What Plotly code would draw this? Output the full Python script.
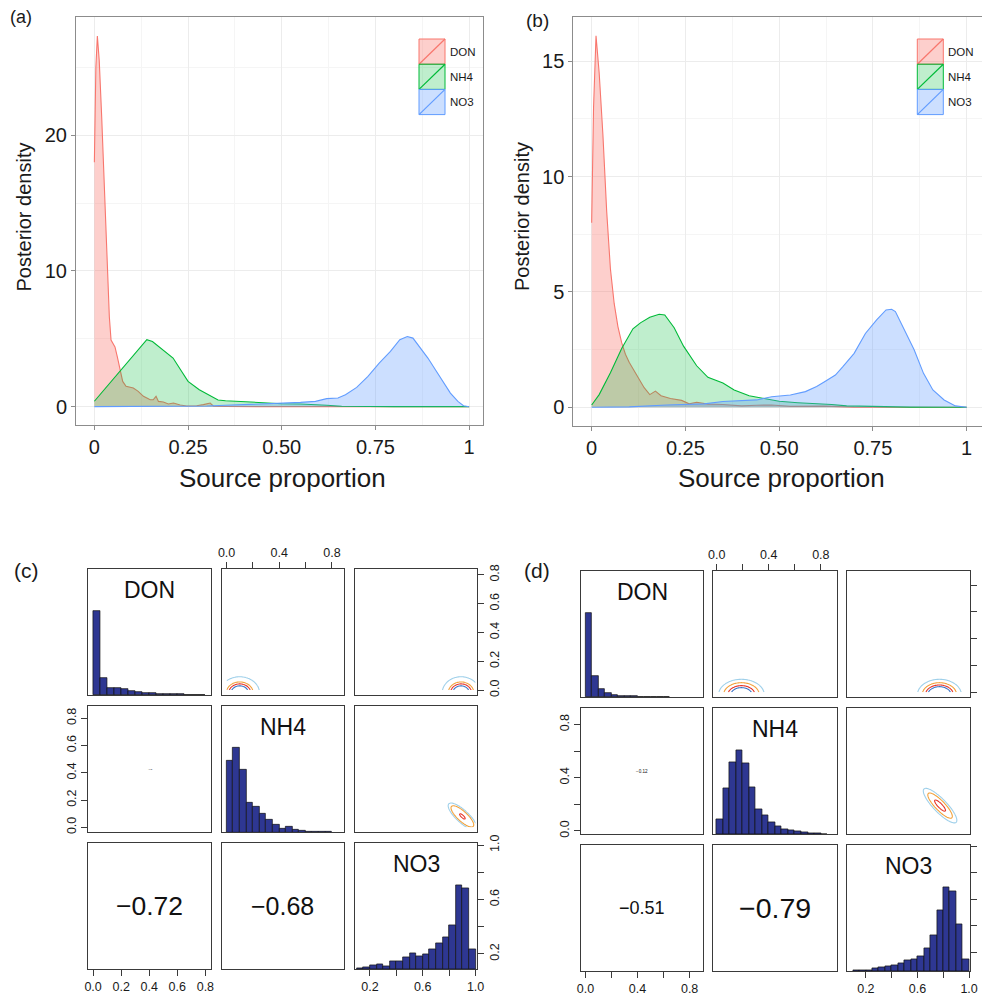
import numpy as np
import plotly.graph_objects as go

W, H = 982, 994
def fx(px): return px / W
def fy(py): return 1 - py / H

FONT = "Liberation Sans, Arial, sans-serif"
TXT = "#1a1a1a"

# ---------------- data: posterior densities ----------------
sources = ["DON", "NH4", "NO3"]
line_colors = ["#F8766D", "#00BA38", "#619CFF"]
fill_colors = ["rgba(248,118,109,0.35)", "rgba(0,186,56,0.25)", "rgba(97,156,255,0.32)"]

a_don_x = [0, 0.004, 0.008, 0.013, 0.0196, 0.0285, 0.0347, 0.04, 0.0445, 0.05, 0.055, 0.061, 0.0685,
           0.0756, 0.0845, 0.095, 0.104, 0.117, 0.131, 0.149, 0.157, 0.1646, 0.171, 0.184, 0.1975, 0.211,
           0.229, 0.246, 0.273, 0.291, 0.309, 0.318, 0.35, 0.45, 0.6, 0.8, 1.0]
a_don_y = [18, 25, 27.3, 25.5, 21.3, 15.2, 10.3, 6.6, 4.9, 4.6, 4.4, 3.7, 2.7,
           1.86, 1.5, 1.45, 1.37, 1.13, 0.76, 0.51, 0.51, 0.76, 0.39, 0.34, 0.2, 0.27,
           0.12, 0.05, 0.07, 0.15, 0.27, 0.03, 0.01, 0.005, 0, 0, 0]
a_nh4_x = [0, 0.05, 0.1, 0.14, 0.155, 0.18, 0.21, 0.23, 0.25, 0.28, 0.31, 0.33, 0.35, 0.38, 0.42,
           0.46, 0.5, 0.55, 0.59, 0.62, 0.66, 0.7, 0.8, 1.0]
a_nh4_y = [0.4, 2.0, 3.64, 4.93, 4.8, 4.24, 3.58, 2.72, 1.86, 1.25, 0.76, 0.49, 0.44, 0.39, 0.32,
           0.27, 0.22, 0.2, 0.17, 0.1, 0.03, 0.01, 0.0, 0.0]
a_no3_x = [0, 0.2, 0.25, 0.3, 0.35, 0.4, 0.45, 0.5, 0.55, 0.59, 0.62, 0.65, 0.67, 0.7, 0.73, 0.76,
           0.79, 0.815, 0.835, 0.85, 0.87, 0.89, 0.91, 0.93, 0.95, 0.97, 0.985, 1.0]
a_no3_y = [0, 0, 0.02, 0.05, 0.1, 0.15, 0.18, 0.27, 0.32, 0.39, 0.59, 0.64, 0.88, 1.42, 2.23, 3.2,
           4.07, 4.93, 5.17, 5.05, 4.31, 3.58, 2.72, 1.86, 1.0, 0.39, 0.07, 0]

b_don_x = [0, 0.005, 0.0116, 0.02, 0.03, 0.04, 0.05, 0.06, 0.07, 0.08, 0.09, 0.1, 0.12, 0.14, 0.155,
           0.17, 0.185, 0.21, 0.24, 0.26, 0.28, 0.31, 0.35, 0.4, 0.44, 0.48, 0.53, 0.62, 0.7, 1.0]
b_don_y = [8, 13, 16.1, 14.5, 11.8, 8.5, 6.0, 4.5, 3.5, 2.8, 2.3, 1.95, 1.4, 0.85, 0.55,
           0.7, 0.5, 0.38, 0.3, 0.15, 0.22, 0.14, 0.12, 0.06, 0.09, 0.1, 0.04, 0.05, 0.01, 0]
b_nh4_x = [0, 0.02, 0.05, 0.08, 0.11, 0.13, 0.155, 0.18, 0.195, 0.22, 0.245, 0.28, 0.31, 0.35, 0.38,
           0.42, 0.46, 0.5, 0.55, 0.6, 0.64, 0.68, 0.75, 0.85, 1.0]
b_nh4_y = [0.1, 0.55, 1.5, 2.55, 3.4, 3.66, 3.9, 4.03, 4.0, 3.45, 2.65, 1.8, 1.3, 1.05, 0.75,
           0.5, 0.38, 0.26, 0.2, 0.16, 0.12, 0.06, 0.03, 0.01, 0]
b_no3_x = [0, 0.1, 0.2, 0.3, 0.35, 0.4, 0.44, 0.48, 0.53, 0.57, 0.6, 0.62, 0.65, 0.67, 0.7, 0.73,
           0.76, 0.785, 0.8, 0.81, 0.83, 0.86, 0.885, 0.91, 0.94, 0.97, 1.0]
b_no3_y = [0, 0.02, 0.1, 0.15, 0.25, 0.28, 0.32, 0.46, 0.53, 0.68, 0.9, 1.1, 1.4, 1.76, 2.34, 3.2,
           3.79, 4.22, 4.25, 4.15, 3.5, 2.49, 1.47, 0.75, 0.32, 0.06, 0]

dens_xticks = [0, 0.25, 0.5, 0.75, 1]
dens_xlabels = ["0", "0.25", "0.50", "0.75", "1"]
a_yticks = [0, 10, 20]
b_yticks = [0, 5, 10, 15]

# ---------------- data: pairs plots (histograms, correlations, contours) ----------------
bin_width = 0.05
hist_start = [0.0, 0.0, 0.1]          # DON, NH4, NO3 first bin edge
hist_top = 1.5                        # histogram panels: tallest bar = 1 on a 0..1.5 scale
c_hist = [
    [1.0, 0.198, 0.083, 0.083, 0.067, 0.044, 0.032, 0.028, 0.024, 0.016, 0.012, 0.008, 0.008, 0.004, 0.004, 0.002],
    [0.845, 1.0, 0.738, 0.353, 0.302, 0.226, 0.151, 0.091, 0.048, 0.063, 0.032, 0.024, 0.012, 0.012, 0.008, 0.008],
    [0.012, 0.028, 0.048, 0.064, 0.04, 0.092, 0.1, 0.143, 0.191, 0.159, 0.179, 0.235, 0.307, 0.378, 0.522, 1.0, 0.96, 0.235],
]
d_hist = [
    [1.0, 0.245, 0.09, 0.045, 0.028, 0.016, 0.01, 0.008, 0.006, 0.004, 0.003, 0.002, 0.002],
    [0.175, 0.546, 0.861, 1.0, 0.841, 0.558, 0.299, 0.227, 0.143, 0.096, 0.056, 0.048, 0.036, 0.024, 0.016, 0.008, 0.004],
    [0.008, 0.016, 0.016, 0.04, 0.048, 0.063, 0.071, 0.095, 0.127, 0.147, 0.179, 0.278, 0.425, 0.722, 1.0, 0.948, 0.556, 0.139],
]
# lower-panel correlations: (row, col, text, font size)
c_cors = [(1, 0, "\u22120.05", 1.7), (2, 0, "\u22120.72", 26.5), (2, 1, "\u22120.68", 25)]
d_cors = [(1, 0, "\u22120.12", 4.6), (2, 0, "\u22120.51", 18), (2, 1, "\u22120.79", 28.5)]

# variable axis ranges in each pairs plot (DON, NH4, NO3)
c_ranges = [[-0.034, 0.84], [-0.037, 0.892], [0.087, 1.013]]
d_ranges = [[-0.036, 0.905], [-0.026, 0.922], [0.056, 1.007]]

# bivariate contour summaries for upper panels: (row, col, mean x, mean y, sd x, sd y, rho, radii)
contour_colors = ["#9fd0ea", "#f2a23c", "#e5352b", "#3c74c6"]
c_contours = [
    (0, 1, 0.10, -0.02, 0.06, 0.045, 0.0, [2.5, 1.7, 1.4, 1.1]),
    (0, 2, 0.89, -0.02, 0.057, 0.045, 0.0, [2.5, 1.7, 1.4, 1.1]),
    (1, 2, 0.90, 0.08, 0.043, 0.039, -0.8, [2.5, 2.0, 0.5]),
]
d_contours = [
    (0, 1, 0.19, -0.02, 0.068, 0.045, 0.0, [2.58, 2.02, 1.53, 1.2]),
    (0, 2, 0.77, -0.02, 0.066, 0.045, 0.0, [2.58, 2.02, 1.64, 1.36]),
    (1, 2, 0.775, 0.19, 0.05, 0.05, -0.85, [2.6, 1.9, 0.85]),
]

pair_tickvals_low = [0, 0.2, 0.4, 0.6, 0.8]
pair_tickvals_high = [0.2, 0.4, 0.6, 0.8, 1.0]
c_ticktext = dict(bottom1=["0.0", "0.2", "0.4", "0.6", "0.8"], top2=["0.0", "", "0.4", "", "0.8"],
                  bottom3=["0.2", "", "0.6", "", "1.0"], left2=["0.0", "0.2", "0.4", "0.6", "0.8"],
                  right1=["0.0", "0.2", "0.4", "0.6", "0.8"], right3=["0.2", "", "0.6", "", "1.0"])
d_ticktext = dict(bottom1=["0.0", "", "0.4", "", "0.8"], top2=["0.0", "", "0.4", "", "0.8"],
                  bottom3=["0.2", "", "0.6", "", "1.0"], left2=["0.0", "", "0.4", "", "0.8"],
                  right1=["0.0", "", "0.4", "", "0.8"], right3=["0.2", "", "0.6", "", "1.0"])

# ---------------- figure ----------------
fig = go.Figure()
layout = dict(width=W, height=H, margin=dict(l=0, r=0, t=0, b=0, autoexpand=False), paper_bgcolor="white",
              plot_bgcolor="white", showlegend=False, font=dict(family=FONT, color=TXT),
              shapes=[], annotations=[], bargap=0)

GRID = "#ececec"
MINOR = "#f5f5f5"
BORDER = "#8c8c8c"

def gg_x(domain, rng, anchor, mirror=True):
    return dict(domain=domain, range=rng, tickmode="array", tickvals=dens_xticks, ticktext=dens_xlabels,
                showgrid=True, gridcolor=GRID, gridwidth=1,
                minor=dict(tickvals=[0.125, 0.375, 0.625, 0.875], showgrid=True, gridcolor=MINOR, ticks=""),
                showline=True, linecolor=BORDER, linewidth=1, mirror=mirror,
                ticks="outside", ticklen=4, tickcolor=BORDER, tickwidth=1, automargin=False,
                tickfont=dict(size=20, color=TXT, family=FONT), zeroline=False, anchor=anchor, fixedrange=True)

def gg_y(domain, rng, ticks, minor, anchor, mirror=True):
    return dict(domain=domain, range=rng, tickmode="array", tickvals=ticks, ticktext=[str(t) for t in ticks],
                showgrid=True, gridcolor=GRID, gridwidth=1,
                minor=dict(tickvals=minor, showgrid=True, gridcolor=MINOR, ticks=""),
                showline=True, linecolor=BORDER, linewidth=1, mirror=mirror,
                ticks="outside", ticklen=4, tickcolor=BORDER, tickwidth=1, automargin=False,
                tickfont=dict(size=20, color=TXT, family=FONT), zeroline=False, anchor=anchor, fixedrange=True)

layout["xaxis"] = gg_x([fx(76), fx(483)], [-0.049, 1.037], "y")
layout["yaxis"] = gg_y([fy(425), fy(17)], [-1.35, 28.7], a_yticks, [5, 15, 25], "x")
layout["xaxis2"] = gg_x([fx(573.3), 1.0], [-0.049, 1.041], "y2")
layout["yaxis2"] = gg_y([fy(426), fy(17.3)], [-0.81, 16.9], b_yticks, [2.5, 7.5, 12.5], "x2", mirror=False)

dens_sets = [
    ("x", "y", [(a_don_x, a_don_y), (a_nh4_x, a_nh4_y), (a_no3_x, a_no3_y)]),
    ("x2", "y2", [(b_don_x, b_don_y), (b_nh4_x, b_nh4_y), (b_no3_x, b_no3_y)]),
]
for xa, ya, series in dens_sets:
    for k, (xs, ys) in enumerate(series):
        fig.add_trace(go.Scatter(x=xs, y=ys, mode="lines", fill="tozeroy", fillcolor=fill_colors[k],
                                 line=dict(color=line_colors[k], width=1.1), name=sources[k],
                                 xaxis=xa, yaxis=ya, hoverinfo="skip"))

# legends drawn as keys (filled box with diagonal line)
for lx in (419, 917.3):
    for k, name in enumerate(sources):
        top = 39 + 25.2 * k
        bot = top + 25.2
        layout["shapes"].append(dict(type="rect", xref="paper", yref="paper", x0=fx(lx), x1=fx(lx + 26),
                                     y0=fy(bot), y1=fy(top), fillcolor=fill_colors[k],
                                     line=dict(color=line_colors[k], width=1)))
        layout["shapes"].append(dict(type="line", xref="paper", yref="paper", x0=fx(lx), x1=fx(lx + 26),
                                     y0=fy(bot), y1=fy(top), line=dict(color=line_colors[k], width=1.2)))
        layout["annotations"].append(dict(text=name, xref="paper", yref="paper", x=fx(lx + 29),
                                          y=fy((top + bot) / 2), xanchor="left", yanchor="middle",
                                          showarrow=False, font=dict(size=11.5, color=TXT, family=FONT)))

# axis titles and panel letters
for cx in (282, 781):
    layout["annotations"].append(dict(text="Source proportion", xref="paper", yref="paper", x=fx(cx), y=fy(478),
                                      xanchor="center", yanchor="middle", showarrow=False,
                                      font=dict(size=26, color=TXT, family=FONT)))
for cx in (23.5, 522):
    layout["annotations"].append(dict(text="Posterior density", xref="paper", yref="paper", x=fx(cx), y=fy(217),
                                      xanchor="center", yanchor="middle", showarrow=False, textangle=-90,
                                      font=dict(size=20, color=TXT, family=FONT)))
for txt, cx, cy, sz in (("(a)", 21, 17.5, 18), ("(b)", 537, 20, 19), ("(c)", 26, 570, 21), ("(d)", 537, 570, 21)):
    layout["annotations"].append(dict(text=txt, xref="paper", yref="paper", x=fx(cx), y=fy(cy),
                                      xanchor="center", yanchor="middle", showarrow=False,
                                      font=dict(size=sz, color=TXT, family=FONT)))

# ---------------- pairs plots ----------------
PB = "#3a3a3a"
HIST_FILL = "#2e3792"

def pairs_block(base, cols_px, rows_px, ranges, hists, cors, contours, ttext):
    for i in range(3):
        for j in range(3):
            n = base + 3 * i + j
            yr = [0, hist_top] if i == j else ranges[i]
            xa = dict(domain=[fx(cols_px[j][0]), fx(cols_px[j][1])], range=ranges[j], anchor=f"y{n}",
                      showgrid=False, zeroline=False, showline=True, linecolor=PB, linewidth=1, mirror=True,
                      ticks="", showticklabels=False, fixedrange=True, automargin=False)
            ya = dict(domain=[fy(rows_px[i][1]), fy(rows_px[i][0])], range=yr, anchor=f"x{n}",
                      showgrid=False, zeroline=False, showline=True, linecolor=PB, linewidth=1, mirror=True,
                      ticks="", showticklabels=False, fixedrange=True, automargin=False)
            tick_common = dict(ticks="outside", ticklen=6, tickwidth=1, tickcolor=PB, showticklabels=True,
                               tickmode="array", tickfont=dict(size=12.5, color=TXT, family=FONT))
            if (i, j) == (2, 0):
                xa.update(tick_common, tickvals=pair_tickvals_low, ticktext=ttext["bottom1"])
            if (i, j) == (0, 1):
                xa.update(tick_common, tickvals=pair_tickvals_low, ticktext=ttext["top2"], side="top")
            if (i, j) == (2, 2):
                xa.update(tick_common, tickvals=pair_tickvals_high, ticktext=ttext["bottom3"])
                lo, hi = ranges[2]
                # NO3 scale shown on the right of its histogram panel (0..1.5 histogram scale)
                mapped = [(v - lo) / (hi - lo) * hist_top for v in pair_tickvals_high]
                ya.update(tick_common, tickvals=mapped, ticktext=ttext["right3"], side="right",
                          tickangle=-90)
            if (i, j) == (1, 0):
                ya.update(tick_common, tickvals=pair_tickvals_low, ticktext=ttext["left2"], tickangle=-90)
            if (i, j) == (0, 2):
                ya.update(tick_common, tickvals=pair_tickvals_low, ticktext=ttext["right1"], side="right",
                          tickangle=-90)
            layout[f"xaxis{n}"] = xa
            layout[f"yaxis{n}"] = ya
            # empty placeholder so that every panel box is drawn
            fig.add_trace(go.Scatter(x=[None], y=[None], mode="markers", xaxis=f"x{n}", yaxis=f"y{n}",
                                     hoverinfo="skip", showlegend=False))
            if i == j:
                h = hists[i]
                centers = [hist_start[i] + bin_width * (k + 0.5) for k in range(len(h))]
                fig.add_trace(go.Bar(x=centers, y=h, width=bin_width, marker=dict(color=HIST_FILL,
                                     line=dict(color="#111111", width=0.7)), xaxis=f"x{n}", yaxis=f"y{n}",
                                     hoverinfo="skip"))
                layout["annotations"].append(dict(text=sources[i], xref=f"x{n} domain", yref=f"y{n}",
                                                  x=0.5, y=1.25, xanchor="center", yanchor="middle",
                                                  showarrow=False, font=dict(size=23, color="#111111", family=FONT)))
    for (i, j, txt, sz) in cors:
        n = base + 3 * i + j
        layout["annotations"].append(dict(text=txt, xref=f"x{n} domain", yref=f"y{n} domain", x=0.5, y=0.5,
                                          xanchor="center", yanchor="middle", showarrow=False,
                                          font=dict(size=sz, color="#111111", family=FONT)))
    for (i, j, mx, my, sx, sy, rho, radii) in contours:
        n = base + 3 * i + j
        gx = np.linspace(max(ranges[j][0], 0.0), min(ranges[j][1], 1.0), 161)
        gy = np.linspace(max(ranges[i][0], 0.0), min(ranges[i][1], 1.0), 161)
        X, Y = np.meshgrid(gx, gy)
        dx = (X - mx) / sx
        dy = (Y - my) / sy
        Z = np.exp(-0.5 * (dx ** 2 - 2 * rho * dx * dy + dy ** 2) / (1 - rho ** 2))
        for k, r in enumerate(radii):
            lev = float(np.exp(-0.5 * r * r))
            fig.add_trace(go.Contour(x=gx, y=gy, z=Z, autocontour=False,
                                     contours=dict(start=lev, end=lev + 1e-9, size=1, coloring="none"),
                                     line=dict(color=contour_colors[k], width=1.1), showscale=False,
                                     xaxis=f"x{n}", yaxis=f"y{n}", hoverinfo="skip"))

c_cols = [(88.3, 211), (221.7, 344), (355, 477.3)]
c_rows = [(569, 695), (705.7, 832.3), (843.3, 969.3)]
d_cols = [(580.7, 703.3), (713.3, 836.7), (847.3, 970)]
d_rows = [(571, 697), (708.3, 834.3), (845.3, 971.3)]

pairs_block(3, c_cols, c_rows, c_ranges, c_hist, c_cors, c_contours, c_ticktext)
pairs_block(12, d_cols, d_rows, d_ranges, d_hist, d_cors, d_contours, d_ticktext)

fig.update_layout(**layout)
fig.write_html("out.html",
               post_script="document.documentElement.style.margin='0';document.body.style.margin='0';"
                           "document.body.style.padding='0';document.body.style.overflow='hidden';")
